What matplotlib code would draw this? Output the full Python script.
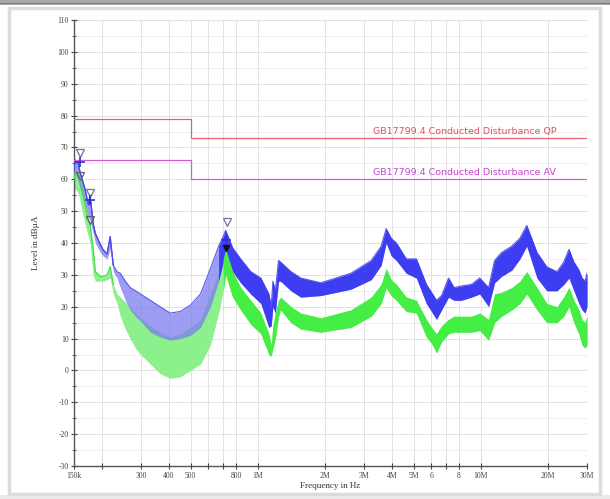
import matplotlib
matplotlib.use("Agg")
import matplotlib.pyplot as plt
from matplotlib.patches import Rectangle
from matplotlib.ticker import FixedLocator, NullFormatter, MultipleLocator

# ---------------- data ----------------
freq_khz = [150, 152, 156, 160, 168, 174, 177, 183, 187, 197, 202, 211, 218, 225, 234,
            242, 255, 268, 283, 298, 330, 365, 405, 450, 499, 554, 614, 668, 700, 718,
            772, 839, 931, 1033, 1122, 1150, 1170, 1200, 1240, 1267, 1410, 1560, 1920,
            2620, 3230, 3580, 3770, 3970, 4190, 4640, 5150, 5710, 6020, 6340, 6680, 7180,
            7600, 8200, 9100, 9900, 10860, 11550, 12400, 13800, 15000, 16100, 17900,
            19800, 22000, 23600, 24900, 26200, 27600, 28500, 29400, 30000]
blue_upper = [63, 66, 65.5, 62, 57, 52, 55, 46, 43, 39.5, 38, 36.5, 42, 33, 31,
              30.5, 28, 26, 25, 24, 22, 20, 18, 18.5, 20.5, 24, 32, 39, 42, 44,
              38.5, 35, 31, 29, 24, 20, 28, 25, 34.5, 34, 31, 29, 27.5,
              30.5, 34.5, 39, 44.5, 41.5, 40, 35, 35, 27, 24.5, 22, 23.5, 29,
              26, 26.5, 27, 29, 26, 34.5, 37, 39, 41.5, 45.5, 37,
              32.5, 31, 34, 38, 34, 31.5, 29, 28, 30.5]
blue_lower = [58, 62, 60, 57, 52, 48, 47, 43, 40, 37, 36, 35, 38, 31, 29,
              26, 22, 19, 17, 15.5, 12, 10.5, 9.5, 10, 11, 13.5, 20, 28, 34, 38,
              31, 27.5, 24, 21, 13.5, 14, 20, 18, 28, 28, 25, 23, 23.5,
              25.5, 28.5, 33, 40, 36, 34.5, 30.5, 29, 21, 18.5, 16, 19, 23,
              22, 22, 23, 24, 20, 27.5, 29.5, 31.5, 35, 39, 29,
              25, 25, 27, 29, 25, 21, 19, 18, 20]
green_upper = [60, 62, 61.5, 60, 52, 47, 46, 38, 31, 29.5, 29.5, 30, 32.5, 27, 24,
               23, 21.5, 20, 18, 16.5, 14, 12, 10.5, 11.5, 13.5, 16, 24, 31, 35, 38,
               31, 26, 22, 18, 11.5, 8, 14, 18, 22, 23, 20, 18, 16.5,
               19, 23, 27, 32, 28.5, 27, 23, 22, 16, 13.5, 11.5, 14, 16,
               17, 17, 17, 18, 16, 24, 24.5, 26, 28, 31, 26,
               21, 20, 23, 26, 22, 19, 16, 15, 17]
green_lower = [54, 57, 56, 53, 46, 42, 40, 30, 28, 28, 28, 28.5, 29, 24, 21,
               17, 13, 10, 7, 5, 2, -1, -2.5, -2, 0, 2, 8, 18, 25, 30,
               23, 19, 14.5, 11.5, 5, 4.5, 7, 10, 17, 19, 15, 13, 12,
               13.5, 17, 21, 26, 23.5, 22, 18.5, 18, 10.5, 8.5, 5.5, 9, 11.5,
               12, 12, 12, 12.5, 9.5, 15, 17, 19, 21, 24, 19,
               15, 15, 17, 20, 15, 11.5, 8, 7, 8]

qp_limit_f = [150e3, 500e3, 500e3, 30e6]
qp_limit_v = [79, 79, 73, 73]
av_limit_f = [150e3, 500e3, 500e3, 30e6]
av_limit_v = [66, 66, 60, 60]
qp_label = "GB17799.4 Conducted Disturbance QP"
av_label = "GB17799.4 Conducted Disturbance AV"

peak_mark_f = [160e3, 177e3, 726e3]
peak_mark_v = [68.4, 55.8, 46.7]
qp_mark_f = [160e3, 177e3, 718e3]
qp_mark_v = [65.5, 53.5, 41]
av_mark_f = [160e3, 177e3]
av_mark_v = [61, 47.3]
avfill_mark_f = [718e3]
avfill_mark_v = [38.5]

x_ticks = [150e3, 200e3, 300e3, 400e3, 500e3, 600e3, 700e3, 800e3, 1e6, 2e6, 3e6, 4e6,
           5e6, 6e6, 7e6, 8e6, 10e6, 20e6, 30e6]
x_ticklabels = ["150k", "", "300", "400", "500", "", "", "800", "1M", "2M", "3M", "4M",
                "5M", "6", "", "8", "10M", "20M", "30M"]
y_ticks = list(range(-30, 111, 10))
y_ticklabels = [str(v) for v in y_ticks]

# ---------------- figure ----------------
W, H = 610, 499
fig = plt.figure(figsize=(W / 100, H / 100), dpi=100)
fig.patch.set_facecolor("white")
# window chrome
fig.add_artist(Rectangle((0, 1 - 5 / H), 1, 5 / H, transform=fig.transFigure,
                         facecolor="#a8a8a8", edgecolor="none"))
fig.add_artist(Rectangle((0, 1 - 4 / H), 1, 1.2 / H, transform=fig.transFigure,
                         facecolor="#7a7a7a", edgecolor="none"))
fig.add_artist(Rectangle((0, 0), 1, 4 / H, transform=fig.transFigure,
                         facecolor="#ebebeb", edgecolor="none"))
fig.add_artist(Rectangle((9 / W, 5 / H), 591 / W, 486 / H, transform=fig.transFigure,
                         facecolor="none", edgecolor="#dcdcdc", linewidth=2.5))

ax = fig.add_axes([74 / W, 33 / H, 513 / W, 446 / H])
ax.set_xscale("log")
ax.set_xlim(150e3, 30e6)
ax.set_ylim(-30, 110)

f = [v * 1e3 for v in freq_khz]
split = 14  # low-frequency line part

blue_light, blue_solid = "#7c7cf0", "#3d3df2"
green_light, green_solid = "#8cf08c", "#45ee45"

ax.fill_between(f, green_lower, green_upper, color=green_light, lw=0, zorder=2)
ax.fill_between(f, blue_lower, blue_upper, color=blue_light, alpha=0.75, lw=0, zorder=3)
ax.plot(f, blue_upper, color="#5a5ae8", lw=0.8, zorder=3)
ax.fill_between(f[27:], blue_lower[27:], blue_upper[27:], color=blue_solid, lw=0, zorder=3)
ax.fill_between(f[28:], green_lower[28:], green_upper[28:], color=green_solid, lw=0, zorder=4)
ax.plot(f[:split], green_upper[:split], color="#40e040", lw=0.9, zorder=4)
ax.plot(f[:split], blue_upper[:split], color="#4a4ae6", lw=0.9, zorder=5)

# limit lines
ax.plot(qp_limit_f, qp_limit_v, color="#e8606e", lw=0.9, zorder=5)
ax.plot(av_limit_f, av_limit_v, color="#d65ad6", lw=0.9, zorder=5)
ax.text(3.3e6, 73.6, qp_label, color="#e0505e", fontsize=6.8, ha="left", va="bottom", zorder=6)
ax.text(3.3e6, 60.6, av_label, color="#c845d0", fontsize=6.8, ha="left", va="bottom", zorder=6)

# markers
ax.plot(peak_mark_f, peak_mark_v, "v", ms=6, mfc="none", mec="#7070a0", mew=0.9, zorder=7)
ax.plot(qp_mark_f, qp_mark_v, "+", ms=7, color="#3030d0", mew=1.2, zorder=7)
ax.plot(av_mark_f, av_mark_v, "v", ms=6, mfc="none", mec="#606060", mew=0.9, zorder=7)
ax.plot(avfill_mark_f, avfill_mark_v, "v", ms=5, color="#101010", zorder=7)

# ticks & grid
ax.xaxis.set_major_locator(FixedLocator(x_ticks))
ax.set_xticklabels(x_ticklabels)
ax.xaxis.set_minor_locator(FixedLocator([]))
ax.xaxis.set_minor_formatter(NullFormatter())
ax.set_yticks(y_ticks)
ax.set_yticklabels(y_ticklabels)
ax.yaxis.set_minor_locator(MultipleLocator(5))

ax.grid(True, which="major", color="#e2e2e2", lw=0.7, zorder=0)
ax.grid(True, which="minor", axis="y", color="#ececec", lw=0.6, zorder=0)
ax.set_axisbelow(True)

for lab in ax.get_xticklabels() + ax.get_yticklabels():
    lab.set_fontfamily("Liberation Serif")
    lab.set_fontsize(5.5)
    lab.set_color("#333333")
ax.tick_params(axis="both", which="major", direction="inout", length=4, width=0.8,
               colors="#444444", pad=2)
ax.tick_params(axis="y", which="minor", direction="inout", length=3, width=0.6,
               colors="#444444")

for s in ["top", "right"]:
    ax.spines[s].set_visible(False)
ax.spines["left"].set_color("#555555")
ax.spines["bottom"].set_color("#555555")
ax.spines["left"].set_linewidth(1.0)
ax.spines["bottom"].set_linewidth(1.0)

ax.set_xlabel("Frequency in Hz", fontfamily="Liberation Serif", fontsize=6.5,
              color="#333333", labelpad=2)
ax.set_ylabel("Level in dBµA", fontfamily="Liberation Serif", fontsize=6.5,
              color="#333333", labelpad=12)

fig.savefig("out.png", dpi=100)
